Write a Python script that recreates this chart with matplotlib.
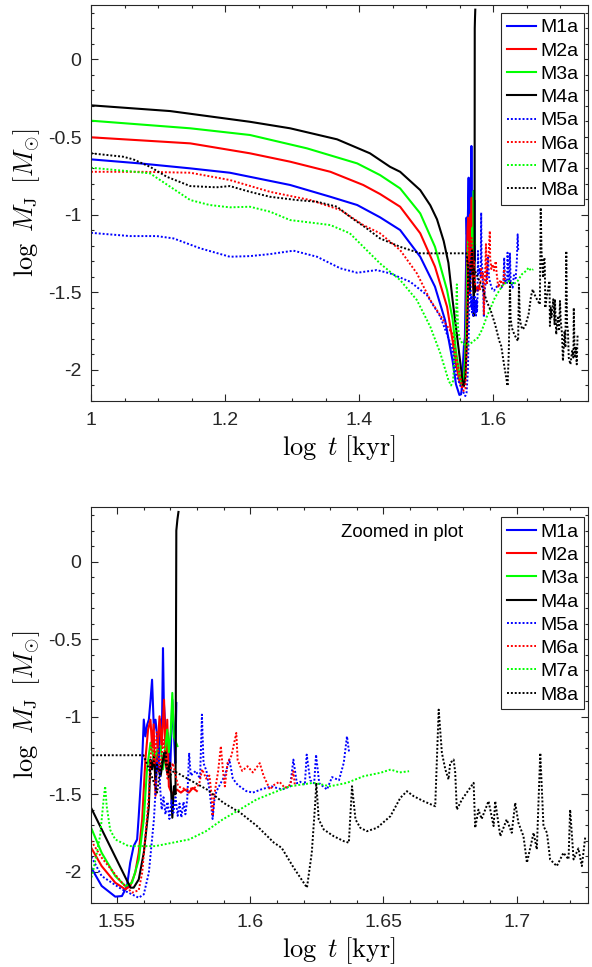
import matplotlib
matplotlib.use('Agg')
import matplotlib.pyplot as plt
from matplotlib.ticker import MultipleLocator, FormatStrFormatter

plt.rcParams['font.family'] = ['Liberation Sans', 'DejaVu Sans']
plt.rcParams['mathtext.fontset'] = 'cm'
plt.rcParams['axes.unicode_minus'] = False

# log t [kyr] and log M_J [M_sun] for each run
m1a_t = [1.0, 1.073, 1.148, 1.207, 1.297, 1.357, 1.397, 1.431, 1.461, 1.491, 1.513, 1.528,
         1.5393, 1.5443, 1.5494, 1.5519, 1.5538, 1.5550, 1.5563, 1.5576, 1.5582, 1.5595, 1.5601,
         1.5607, 1.5614, 1.5620, 1.5626, 1.5632, 1.5636, 1.5639, 1.5645, 1.5651, 1.5656, 1.5664,
         1.5669, 1.5673, 1.5676, 1.5680, 1.5684, 1.5690, 1.5695, 1.5700, 1.5708, 1.5714, 1.5719,
         1.5723]
m1a_m = [-0.644, -0.670, -0.702, -0.730, -0.809, -0.885, -0.938, -1.017, -1.099, -1.271, -1.464, -1.679,
         -1.942, -2.092, -2.161, -2.157, -2.093, -1.942, -1.835, -1.792, -1.642, -1.277, -1.019,
         -1.127, -1.05, -1.019, -0.90, -0.762, -0.95, -1.084, -1.02, -1.127, -1.30, -1.019,
         -1.10, -0.558, -0.90, -1.019, -1.25, -1.105, -1.20, -1.35, -0.891, -1.105, -1.30,
         -0.912]

m2a_t = [1.0, 1.148, 1.237, 1.297, 1.357, 1.406, 1.431, 1.461, 1.491, 1.513, 1.531,
         1.5393, 1.5443, 1.5494, 1.5532, 1.5550, 1.5569, 1.5582, 1.5595, 1.5607, 1.5617, 1.5626,
         1.5632, 1.5638, 1.5645, 1.5651, 1.5660, 1.5668, 1.5677, 1.5683, 1.5689, 1.5695, 1.5702,
         1.5712, 1.5725, 1.5740, 1.5755, 1.5770, 1.5785, 1.5800]
m2a_m = [-0.502, -0.541, -0.605, -0.659, -0.724, -0.809, -0.867, -0.949, -1.12, -1.335, -1.593,
         -1.813, -1.964, -2.071, -2.114, -2.093, -2.006, -1.878, -1.663, -1.277, -1.084, -1.02,
         -1.19, -1.05, -1.51, -1.25, -0.998, -1.20, -0.891, -1.28, -1.02, -1.45, -1.48,
         -1.50, -1.47, -1.49, -1.47, -1.49, -1.46, -1.48]

m3a_t = [1.0, 1.148, 1.237, 1.322, 1.397, 1.431, 1.461, 1.491, 1.513, 1.531,
         1.5393, 1.5443, 1.5494, 1.5532, 1.5557, 1.5582, 1.5601, 1.5613, 1.5626, 1.5639, 1.5652,
         1.5664, 1.5673, 1.5689, 1.5695, 1.5702, 1.5708, 1.5714, 1.5727]
m3a_m = [-0.395, -0.444, -0.487, -0.573, -0.670, -0.745, -0.831, -0.992, -1.207, -1.486,
         -1.674, -1.878, -2.028, -2.093, -2.071, -1.923, -1.663, -1.341, -1.169, -1.28, -1.22,
         -1.19, -1.34, -1.084, -1.23, -1.10, -0.847, -1.13, -1.19]

m4a_t = [1.0, 1.118, 1.237, 1.297, 1.367, 1.416, 1.446, 1.461, 1.491, 1.506, 1.516, 1.526, 1.533,
         1.5393, 1.5551, 1.5563, 1.5582, 1.5601, 1.5620, 1.5626, 1.5632, 1.5639, 1.5645, 1.5651,
         1.5658, 1.5664, 1.5677, 1.5689, 1.5699, 1.5708, 1.5714, 1.5720, 1.5723, 1.5727, 1.5731]
m4a_m = [-0.296, -0.333, -0.402, -0.444, -0.515, -0.605, -0.692, -0.724, -0.842, -0.94, -1.03, -1.17, -1.31,
         -1.552, -2.103, -2.103, -2.05, -1.878, -1.578, -1.277, -1.34, -1.256, -1.406, -1.30,
         -1.35, -1.384, -1.234, -1.363, -1.298, -1.652, -1.449, -1.50, 0.20, 0.27, 0.32]

m5a_t = [1.0, 1.058, 1.098, 1.123, 1.163, 1.207, 1.237, 1.267, 1.302, 1.337, 1.372, 1.397, 1.426,
         1.446, 1.476, 1.501, 1.521, 1.5393, 1.5443, 1.5519, 1.5582, 1.5601, 1.5620, 1.5639,
         1.5651, 1.5658, 1.5662, 1.5668, 1.5675, 1.5682, 1.5690, 1.5697, 1.5705, 1.5712, 1.5720,
         1.5728, 1.5735, 1.5742, 1.5750, 1.5757, 1.5764, 1.5771, 1.5777, 1.5796, 1.5812, 1.5819,
         1.5825, 1.5836, 1.5848, 1.5859, 1.5867, 1.5874, 1.5886, 1.5905, 1.5922, 1.5935, 1.5953,
         1.5985, 1.6010, 1.6040, 1.6080, 1.6120, 1.6150, 1.6162, 1.6175, 1.6187, 1.6205, 1.6212,
         1.6225, 1.6240, 1.6247, 1.6259, 1.6288, 1.6307, 1.6333, 1.6351, 1.6363, 1.6371]
m5a_m = [-1.117, -1.138, -1.138, -1.153, -1.217, -1.271, -1.267, -1.254, -1.232, -1.271, -1.346, -1.374, -1.357,
         -1.378, -1.432, -1.518, -1.657, -1.867, -2.028, -2.114, -2.168, -2.146, -2.006, -1.663,
         -1.298, -1.191, -1.45, -1.60, -1.52, -1.63, -1.55, -1.66, -1.54, -1.62, -1.52,
         -1.64, -1.56, -1.65, -1.55, -1.63, -1.53, -1.234, -1.38, -1.35, -1.40, -0.987,
         -1.30, -1.35, -1.48, -1.66, -1.52, -1.48, -1.44, -1.38, -1.277, -1.40, -1.44,
         -1.48, -1.49, -1.47, -1.45, -1.47, -1.45, -1.277, -1.43, -1.42, -1.44, -1.245,
         -1.41, -1.43, -1.245, -1.43, -1.47, -1.39, -1.41, -1.298, -1.127, -1.23]

m6a_t = [1.0, 1.073, 1.148, 1.207, 1.267, 1.327, 1.372, 1.406, 1.431, 1.461, 1.486, 1.506,
         1.5393, 1.5443, 1.5519, 1.5557, 1.5582, 1.5595, 1.5607, 1.5620, 1.5626, 1.5632, 1.5640,
         1.5650, 1.5660, 1.5675, 1.5690, 1.5710, 1.5730, 1.5760, 1.5790, 1.5808, 1.5820, 1.5835,
         1.5847, 1.5855, 1.5859, 1.5866, 1.5880, 1.5890, 1.5898, 1.5905, 1.5915, 1.5930, 1.5948,
         1.5953, 1.5970, 1.5990, 1.6010, 1.6036, 1.6050, 1.6074, 1.6090, 1.6110, 1.6130, 1.6150,
         1.6162, 1.6168]
m6a_m = [-0.724, -0.724, -0.730, -0.777, -0.853, -0.906, -0.970, -1.067, -1.12, -1.228, -1.378, -1.55,
         -1.771, -1.91, -2.071, -2.135, -2.12, -2.006, -1.771, -1.513, -1.277, -1.13, -1.30,
         -1.10, -1.35, -1.15, -1.40, -1.30, -1.45, -1.47, -1.46, -1.44, -1.34, -1.40,
         -1.38, -1.50, -1.64, -1.50, -1.35, -1.19, -1.35, -1.45, -1.30, -1.25, -1.105,
         -1.28, -1.35, -1.32, -1.36, -1.30, -1.38, -1.47, -1.44, -1.42, -1.46, -1.44,
         -1.352, -1.45]

m7a_t = [1.0, 1.048, 1.088, 1.118, 1.148, 1.177, 1.207, 1.237, 1.267, 1.297, 1.337, 1.357, 1.386,
         1.411, 1.431, 1.461, 1.486, 1.506, 1.521, 1.533, 1.537, 1.5400, 1.5413, 1.5437, 1.5450,
         1.5456, 1.5462, 1.5475, 1.5494, 1.5544, 1.5645, 1.5771, 1.5834, 1.5897, 1.5960, 1.6023,
         1.6086, 1.6149, 1.6237, 1.6300, 1.6363, 1.6426, 1.6489, 1.6527, 1.6560, 1.6596]
m7a_m = [-0.698, -0.717, -0.734, -0.82, -0.906, -0.938, -0.953, -0.949, -0.981, -1.035, -1.056, -1.067, -1.12,
         -1.228, -1.314, -1.421, -1.55, -1.722, -1.893, -2.065, -2.10, -2.07, -1.98, -1.77, -1.54,
         -1.449, -1.58, -1.73, -1.792, -1.835, -1.835, -1.792, -1.739, -1.663, -1.60, -1.535,
         -1.491, -1.449, -1.427, -1.449, -1.427, -1.384, -1.362, -1.341, -1.36, -1.352]

m8a_t = [1.0, 1.048, 1.063, 1.088, 1.113, 1.148, 1.187, 1.207, 1.237, 1.267, 1.307, 1.337, 1.367,
         1.386, 1.411, 1.431, 1.461, 1.491, 1.506, 1.5600, 1.5632, 1.5651, 1.5664, 1.5683, 1.5695,
         1.5714, 1.5775, 1.5838, 1.5900, 1.5963, 1.6026, 1.6089, 1.6118, 1.6163, 1.6213, 1.6231,
         1.6244, 1.6248, 1.6257, 1.6276, 1.6313, 1.6351, 1.6370, 1.6382, 1.6395, 1.6413, 1.6438,
         1.6476, 1.6526, 1.6563, 1.6588, 1.6613, 1.6650, 1.6694, 1.6707, 1.6719, 1.6732, 1.6744,
         1.6750, 1.6763, 1.6769, 1.6775, 1.6794, 1.6838, 1.6844, 1.6856, 1.6868, 1.6894, 1.6913,
         1.6919, 1.6938, 1.6962, 1.6981, 1.6994, 1.7006, 1.7025, 1.7038, 1.7063, 1.7075, 1.7088,
         1.7100, 1.7113, 1.7125, 1.7150, 1.7175, 1.7194, 1.7200, 1.7213, 1.7231, 1.7244, 1.7257]
m8a_m = [-0.605, -0.627, -0.644, -0.692, -0.756, -0.816, -0.824, -0.816, -0.853, -0.885, -0.906, -0.917, -0.949,
         -1.013, -1.088, -1.153, -1.207, -1.249, -1.249, -1.249, -1.39, -1.49, -1.32, -1.23, -1.39,
         -1.35, -1.41, -1.47, -1.556, -1.62, -1.706, -1.813, -1.846, -1.974, -2.103, -1.878,
         -1.556, -1.427, -1.663, -1.728, -1.771, -1.803, -1.813, -1.449, -1.663, -1.717, -1.739,
         -1.717, -1.642, -1.524, -1.481, -1.513, -1.545, -1.578, -0.955, -1.234, -1.341, -1.405,
         -1.30, -1.277, -1.36, -1.60, -1.535, -1.427, -1.717, -1.60, -1.66, -1.545, -1.706,
         -1.545, -1.771, -1.663, -1.749, -1.556, -1.685, -1.771, -1.942, -1.749, -1.856, -1.234,
         -1.706, -1.749, -1.921, -1.964, -1.878, -1.92, -1.60, -1.921, -1.85, -1.964, -1.771]

runs = [
    ('M1a', m1a_t, m1a_m, 'b', '-'),
    ('M2a', m2a_t, m2a_m, 'r', '-'),
    ('M3a', m3a_t, m3a_m, 'g', '-'),
    ('M4a', m4a_t, m4a_m, 'k', '-'),
    ('M5a', m5a_t, m5a_m, 'b', ':'),
    ('M6a', m6a_t, m6a_m, 'r', ':'),
    ('M7a', m7a_t, m7a_m, 'g', ':'),
    ('M8a', m8a_t, m8a_m, 'k', ':'),
]
colours = {'b': '#0000ff', 'r': '#ff0000', 'g': '#00ff00', 'k': '#000000'}

axcol = '#262626'
fig = plt.figure(figsize=(5.92, 9.67), dpi=100)
ax1 = fig.add_axes([91 / 592, 1 - 401 / 967, 497 / 592, 396 / 967])
ax2 = fig.add_axes([91 / 592, 1 - 902.7 / 967, 497 / 592, 395.4 / 967])


def draw(ax):
    for name, t, m, c, ls in runs:
        if ls == ':':
            ax.plot(t, m, color=colours[c], lw=1.4, linestyle=(0, (1, 1)), label=name)
        else:
            ax.plot(t, m, color=colours[c], lw=1.5, linestyle='-', label=name)
    ax.set_ylim(-2.2, 0.35)
    ax.yaxis.set_major_locator(MultipleLocator(0.5))
    ax.yaxis.set_minor_locator(MultipleLocator(0.1))
    ax.yaxis.set_major_formatter(FormatStrFormatter('%g'))
    ax.xaxis.set_major_formatter(FormatStrFormatter('%g'))
    ax.tick_params(which='both', direction='in', top=True, right=True,
                   colors=axcol, labelsize=14, width=0.8)
    ax.tick_params(which='major', length=5)
    ax.tick_params(which='minor', length=2.5)
    ax.tick_params(axis='y', pad=7)
    ax.tick_params(axis='x', pad=8)
    for s in ax.spines.values():
        s.set_color(axcol)
        s.set_linewidth(0.8)
    ax.set_xlabel(r'$\log\ t\ [\mathrm{kyr}]$', fontsize=19, color='#000000', labelpad=3)
    ax.set_ylabel(r'$\log\ M_{\rm J}\ \,[M_{\odot}]$', fontsize=19, color='#000000', labelpad=4)


draw(ax1)
ax1.set_xlim(1.0, 1.7412)
ax1.xaxis.set_major_locator(MultipleLocator(0.2))
ax1.xaxis.set_minor_locator(MultipleLocator(0.05))
leg1 = ax1.legend(loc='upper right', bbox_to_anchor=(1 - 4 / 497, 1 - 8 / 396), borderaxespad=0,
                  fontsize=14, handlelength=1.5, handletextpad=0.2, labelspacing=0.29,
                  borderpad=0.3, fancybox=False, framealpha=1, edgecolor='#262626')
leg1.get_frame().set_linewidth(0.8)

draw(ax2)
ax2.set_xlim(1.5403, 1.7267)
ax2.xaxis.set_major_locator(MultipleLocator(0.05))
ax2.xaxis.set_minor_locator(MultipleLocator(0.01))
leg2 = ax2.legend(loc='upper right', bbox_to_anchor=(1 - 4 / 497, 1 - 10 / 395), borderaxespad=0,
                  fontsize=14, handlelength=1.5, handletextpad=0.2, labelspacing=0.29,
                  borderpad=0.3, fancybox=False, framealpha=1, edgecolor='#262626')
leg2.get_frame().set_linewidth(0.8)
ax2.text(0.625, 0.9375, 'Zoomed in plot', transform=ax2.transAxes, ha='center', va='center',
         fontsize=13.3, color='#000000')

fig.savefig('out.png', dpi=100)
